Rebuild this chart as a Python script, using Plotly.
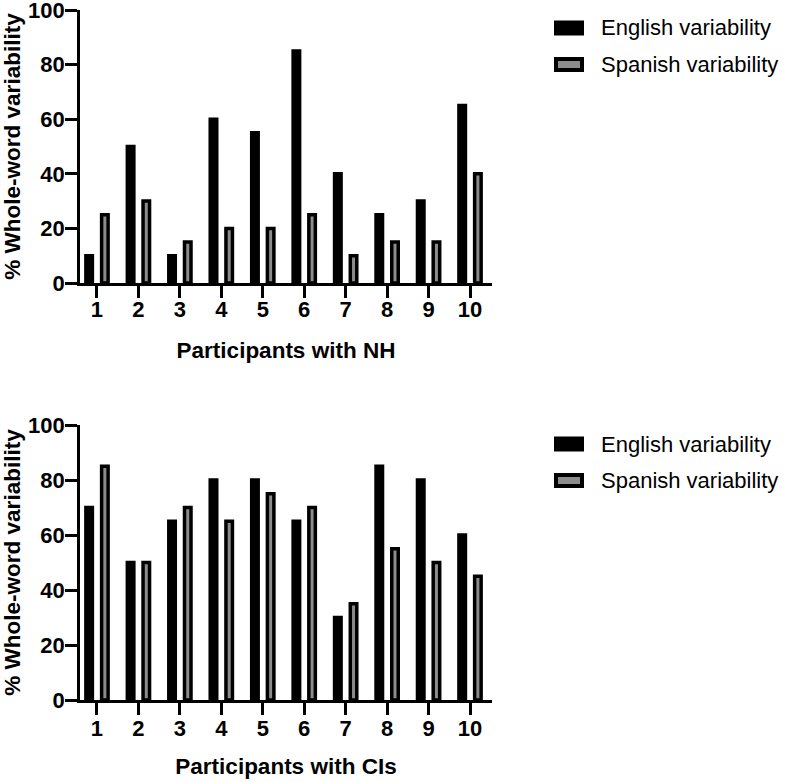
import plotly.graph_objects as go

participants = list(range(1, 11))
nh_english = [10, 50, 10, 60, 55, 85, 40, 25, 30, 65]
nh_spanish = [25, 30, 15, 20, 20, 25, 10, 15, 15, 40]
ci_english = [70, 50, 65, 80, 80, 65, 30, 85, 80, 60]
ci_spanish = [85, 50, 70, 65, 75, 70, 35, 55, 50, 45]
y_ticks = [0, 20, 40, 60, 80, 100]
series_names = ["English variability", "Spanish variability"]

W, H = 787, 782
BLACK = "#000000"
GRAY = "#8c8c8c"
FONT = "Arial, 'Liberation Sans', sans-serif"

def px_x(p):
    return p / W

def px_y(p):
    return 1 - p / H

fig = go.Figure()
lw_bar = 3.5
for xa, ya, eng, spa in [("x", "y", nh_english, nh_spanish), ("x2", "y2", ci_english, ci_spanish)]:
    fig.add_trace(go.Bar(x=participants, y=eng, name=series_names[0], xaxis=xa, yaxis=ya,
                         marker=dict(color=BLACK, line=dict(color=BLACK, width=lw_bar)),
                         showlegend=False))
    fig.add_trace(go.Bar(x=participants, y=spa, name=series_names[1], xaxis=xa, yaxis=ya,
                         marker=dict(color=GRAY, line=dict(color=BLACK, width=lw_bar)),
                         showlegend=False))

x_dom = [px_x(80), px_x(492)]
x_range = [0.59, 10.53]
axis_common = dict(showline=True, linecolor=BLACK, linewidth=2.7, ticks="outside", ticklen=12,
                   tickwidth=2.7, tickcolor=BLACK, showgrid=False, zeroline=False, automargin=False,
                   ticklabeloverflow="allow",
                   tickfont=dict(family=FONT, size=22, color=BLACK, weight="bold"))
title_font = dict(family=FONT, size=22.5, color=BLACK, weight="bold")

fig.update_layout(
    width=W, height=H, margin=dict(l=0, r=0, t=0, b=0, autoexpand=False),
    paper_bgcolor="white", plot_bgcolor="white",
    barmode="group", bargap=0.242, bargroupgap=0.586,
    xaxis=dict(domain=x_dom, range=x_range, anchor="y", tickvals=participants, ticklabelstandoff=-7,
               title=dict(text="Participants with NH", font=title_font, standoff=21), **axis_common),
    yaxis=dict(domain=[px_y(283), px_y(10)], range=[0, 100], anchor="x", tickvals=y_ticks,
               ticklabelstandoff=-4,
               title=dict(text="% Whole-word variability", font=title_font, standoff=12), **axis_common),
    xaxis2=dict(domain=x_dom, range=x_range, anchor="y2", tickvals=participants, ticklabelstandoff=-5,
                title=dict(text="Participants with CIs", font=title_font, standoff=18), **axis_common),
    yaxis2=dict(domain=[px_y(700), px_y(425)], range=[0, 100], anchor="x2", tickvals=y_ticks,
                ticklabelstandoff=-4,
                title=dict(text="% Whole-word variability", font=title_font, standoff=12), **axis_common),
)

# Manual legends (one per panel)
shapes = []
annotations = []
for top in (9, 425):
    for i, (name, fill) in enumerate(zip(series_names, [BLACK, GRAY])):
        cy = top + 19 + i * 36.5
        shapes.append(dict(type="rect", xref="paper", yref="paper",
                           x0=px_x(556), x1=px_x(582), y0=px_y(cy - 5.5), y1=px_y(cy + 5.5),
                           fillcolor=fill, line=dict(color=BLACK, width=4)))
        annotations.append(dict(xref="paper", yref="paper", x=px_x(599), y=px_y(cy),
                                xanchor="left", yanchor="middle", showarrow=False, text=name,
                                font=dict(family=FONT, size=22, color=BLACK)))
fig.update_layout(shapes=shapes, annotations=annotations)

# remove the default 8px body margin so the figure fills the window exactly
fig.write_html("out.html", config={"displayModeBar": False},
               post_script="document.body.style.margin='0px';")
